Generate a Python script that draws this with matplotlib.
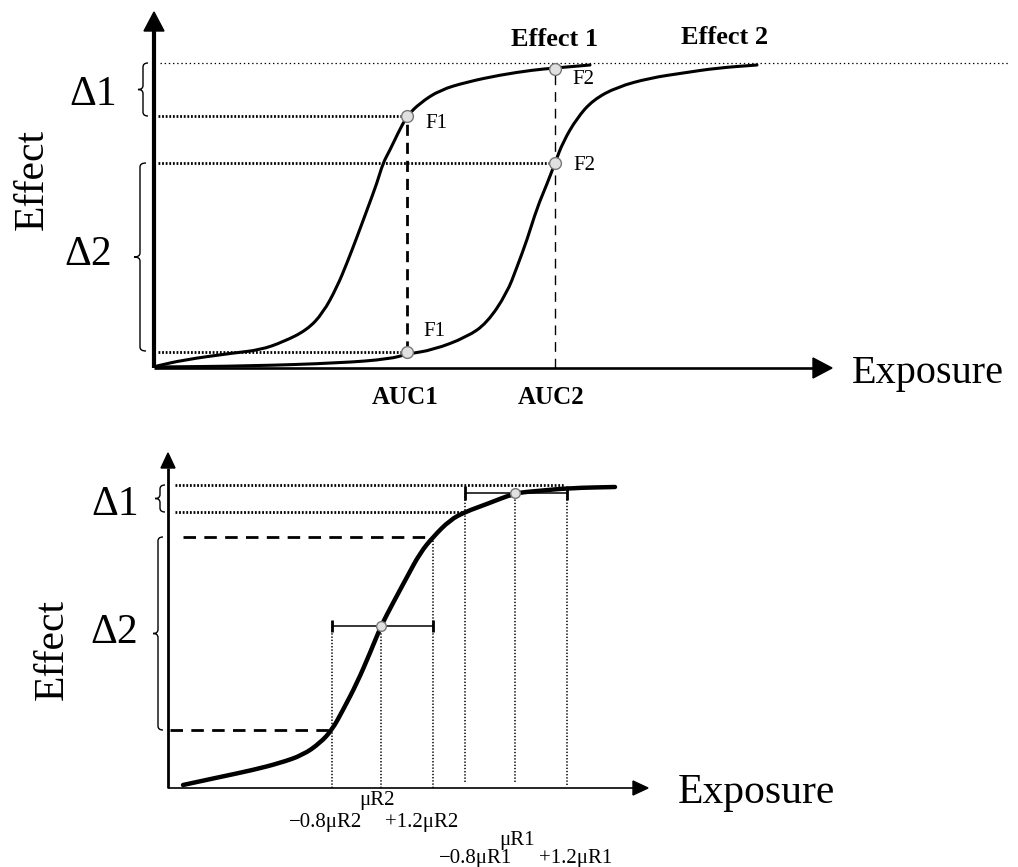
import matplotlib
matplotlib.use("Agg")
import matplotlib.pyplot as plt
from matplotlib.path import Path
from matplotlib.patches import PathPatch, Polygon

plt.rcParams['font.family'] = ['Liberation Serif', 'DejaVu Serif']
plt.rcParams['lines.scale_dashes'] = False

# ---- top panel data (exposure / effect units) ----
effect1_x = [3, 29, 79, 106, 129, 153, 169, 183, 193, 203, 213, 223, 229, 236, 244,
             253, 266, 286, 313, 346, 379, 401, 436]
effect1_y = [2, 8, 15, 18, 26, 38, 55, 81, 105, 131, 158, 185, 205, 218, 235,
             252, 265, 278, 286, 293, 298, 300, 303]
effect2_x = [3, 96, 186, 236, 253, 279, 313, 333, 353, 363, 373, 383, 393, 401, 409,
             423, 439, 463, 496, 529, 563, 603]
effect2_y = [1, 2, 5, 9, 14, 18, 31, 45, 75, 101, 128, 160, 184, 205, 226,
             250, 268, 281, 290, 295, 300, 303]
top_level = 305
f1_high, f1_low = 252, 16
f2_high, f2_mid = 299, 205
auc1, auc2 = 253, 401

# ---- bottom panel data ----
curve_x = [15, 52, 85, 112, 135, 152, 164, 175, 189, 202, 213, 225, 239, 252,
           265, 282, 297, 319, 347, 369, 402, 447]
curve_y = [3, 11, 18, 25, 33, 45, 58, 78, 105, 135, 162, 185, 211, 235,
           251, 268, 276, 284, 295, 297, 300, 301]
mu_r2, lo_r2, hi_r2 = 213, 164, 265
mu_r1, lo_r1, hi_r1 = 347, 297, 399
eff_r2, eff_r1 = 162, 295
lvl_top, lvl_r1_lo, lvl_r2_hi, lvl_r2_lo = 303, 276, 251, 58
r2_labels = ["μR2", "\u22120.8μR2", "+1.2μR2"]
r1_labels = ["μR1", "\u22120.8μR1", "+1.2μR1"]

W, H = 1018, 867
fig = plt.figure(figsize=(W / 100, H / 100), dpi=100)

# each panel in pixel-sized units, origin at the axis corner
ax1 = fig.add_axes([0, 433 / H, 1, 434 / H])
ax1.set_xlim(-154, W - 154)
ax1.set_ylim(368 - 434, 368)
ax2 = fig.add_axes([0, 0, 1, 433 / H])
ax2.set_xlim(-168, W - 168)
ax2.set_ylim(788 - 867, 788 - 434)
for ax in (ax1, ax2):
    ax.axis('off')


def smooth_curve(ax, xs, ys, lw):
    # quadratic spline path through the midpoints, read points as controls
    pts = list(zip(xs, ys))
    verts = [pts[0], ((pts[0][0] + pts[1][0]) / 2, (pts[0][1] + pts[1][1]) / 2)]
    codes = [Path.MOVETO, Path.LINETO]
    for i in range(1, len(pts) - 1):
        mid = ((pts[i][0] + pts[i + 1][0]) / 2, (pts[i][1] + pts[i + 1][1]) / 2)
        verts += [pts[i], mid]
        codes += [Path.CURVE3, Path.CURVE3]
    verts.append(pts[-1])
    codes.append(Path.LINETO)
    ax.add_patch(PathPatch(Path(verts, codes), fill=False, lw=lw, ec='black',
                           capstyle='round', joinstyle='round'))


def brace(ax, x, y0, y1, w, lw=1.0):
    # left pointing curly brace, spine at x
    ym = (y0 + y1) / 2
    r = min(4, (y1 - y0) / 4)
    verts = [(x + w, y1), (x, y1), (x, y1 - r),
             (x, ym + r), (x, ym), (x - w, ym),
             (x, ym), (x, ym - r),
             (x, y0 + r), (x, y0), (x + w, y0)]
    codes = [Path.MOVETO, Path.CURVE3, Path.CURVE3,
             Path.LINETO, Path.CURVE3, Path.CURVE3,
             Path.CURVE3, Path.CURVE3,
             Path.LINETO, Path.CURVE3, Path.CURVE3]
    ax.add_patch(PathPatch(Path(verts, codes), fill=False, lw=lw, ec='black',
                           clip_on=False))


def axes_arrows(ax, xend, yend, xw, yw, head, half):
    ax.plot([0, 0], [0, yend - head], color='black', lw=yw, solid_capstyle='butt')
    ax.plot([0, xend - head], [0, 0], color='black', lw=xw, solid_capstyle='butt')
    ax.add_patch(Polygon([(-half, yend - head), (half, yend - head), (0, yend)],
                         closed=True, color='black'))
    ax.add_patch(Polygon([(xend - head, -half), (xend - head, half), (xend, 0)],
                         closed=True, color='black'))


dotted = dict(color='black', lw=2.0, dashes=(1.3, 1.3))
vdot = dict(color='black', lw=1.1, dashes=(1, 1.3))
mk = dict(marker='o', ms=8.5, mfc='#e0e0e0', mec='#777777', mew=1, ls='none', zorder=5)

# ================= top panel =================
axes_arrows(ax1, 678, 356, 1.9, 3.0, 19, 10)
smooth_curve(ax1, effect1_x, effect1_y, 2.2)
smooth_curve(ax1, effect2_x, effect2_y, 2.2)

ax1.plot([6, 854], [top_level, top_level], color='black', lw=0.9, dashes=(1, 2))
ax1.plot([4, auc1], [f1_high, f1_high], **dotted)
ax1.plot([4, auc2], [f2_mid, f2_mid], **dotted)
ax1.plot([4, auc1], [f1_low, f1_low], **dotted)
ax1.plot([auc1, auc1], [f1_low, f1_high], color='black', lw=2.0, dashes=(8, 5))
ax1.plot([auc2, auc2], [0, f2_high], color='black', lw=1.0, dashes=(7, 5))

ax1.plot([auc1, auc1], [f1_high, f1_low], **mk)
ax1.plot([auc2, auc2], [f2_high, f2_mid], **mk)

ax1.text(271, 244, "F1", fontsize=15, ha='left', va='center')
ax1.text(269, 37, "F1", fontsize=15, ha='left', va='center')
ax1.text(418, 288, "F2", fontsize=15, ha='left', va='center')
ax1.text(419, 203, "F2", fontsize=15, ha='left', va='center')
ax1.text(401, 329, "Effect 1", fontsize=19, fontweight='bold', ha='center', va='center')
ax1.text(571, 331, "Effect 2", fontsize=19, fontweight='bold', ha='center', va='center')
ax1.text(auc1 - 2, -29, "AUC1", fontsize=18, fontweight='bold', ha='center', va='center')
ax1.text(auc2 - 4, -29, "AUC2", fontsize=18, fontweight='bold', ha='center', va='center')
ax1.text(698, -15, "Exposure", fontsize=29, ha='left', va='baseline')
ax1.text(-121, 188, "Effect", fontsize=30, rotation=90, ha='center', va='center')
ax1.text(-61, 263, "Δ1", fontsize=30, ha='center', va='baseline')
ax1.text(-66, 103, "Δ2", fontsize=30, ha='center', va='baseline')
brace(ax1, -11, f1_high, top_level, 5)
brace(ax1, -14, f1_low + 1, f2_mid, 6)

# ================= bottom panel =================
axes_arrows(ax2, 480, 335, 1.2, 2.0, 15, 7)
smooth_curve(ax2, curve_x, curve_y, 3.2)

ax2.plot([7, hi_r1 - 2], [lvl_top, lvl_top], **dotted)
ax2.plot([7, lo_r1], [lvl_r1_lo, lvl_r1_lo], **dotted)
ax2.plot([15, hi_r2], [lvl_r2_hi, lvl_r2_hi], color='black', lw=2.0, dashes=(9, 6))
ax2.plot([2, lo_r2], [lvl_r2_lo, lvl_r2_lo], color='black', lw=2.0, dashes=(9, 6))

ax2.plot([lo_r2, lo_r2], [0, eff_r2], **vdot)
ax2.plot([mu_r2, mu_r2], [0, eff_r2], **vdot)
ax2.plot([hi_r2, hi_r2], [0, lvl_r2_hi], **vdot)
ax2.plot([lo_r1, lo_r1], [6, eff_r1], **vdot)
ax2.plot([mu_r1, mu_r1], [6, eff_r1], **vdot)
ax2.plot([hi_r1, hi_r1], [3, eff_r1], **vdot)

ax2.errorbar([mu_r2], [eff_r2], xerr=[[mu_r2 - lo_r2], [hi_r2 - mu_r2]],
             fmt='none', ecolor='black', elinewidth=1.1, capsize=4.5, capthick=2)
ax2.errorbar([mu_r1], [eff_r1], xerr=[[mu_r1 - lo_r1], [hi_r1 - mu_r1]],
             fmt='none', ecolor='black', elinewidth=1.1, capsize=5, capthick=2)
ax2.plot([mu_r2, mu_r1], [eff_r2, eff_r1], **dict(mk, ms=7))

for xs, lab, yy in zip([mu_r2, lo_r2 - 6, hi_r2 - 11], r2_labels, [-12, -35, -35]):
    ax2.text(xs - 4 if lab == r2_labels[0] else xs, yy, lab, fontsize=15,
             ha='center', va='center')
for xs, lab, yy in zip([mu_r1, lo_r1 + 11, hi_r1 + 9], r1_labels, [-52, -70, -70]):
    ax2.text(xs + 2 if lab == r1_labels[0] else xs, yy, lab, fontsize=15,
             ha='center', va='center')

ax2.text(510, -15, "Exposure", fontsize=30, ha='left', va='baseline')
ax2.text(-115, 138, "Effect", fontsize=30, rotation=90, ha='center', va='center')
ax2.text(-53, 273, "Δ1", fontsize=30, ha='center', va='baseline')
ax2.text(-54, 145, "Δ2", fontsize=30, ha='center', va='baseline')
brace(ax2, -8, lvl_r1_lo, lvl_top, 5)
brace(ax2, -10, lvl_r2_lo, lvl_r2_hi, 5)

fig.savefig("out.png", dpi=100)
